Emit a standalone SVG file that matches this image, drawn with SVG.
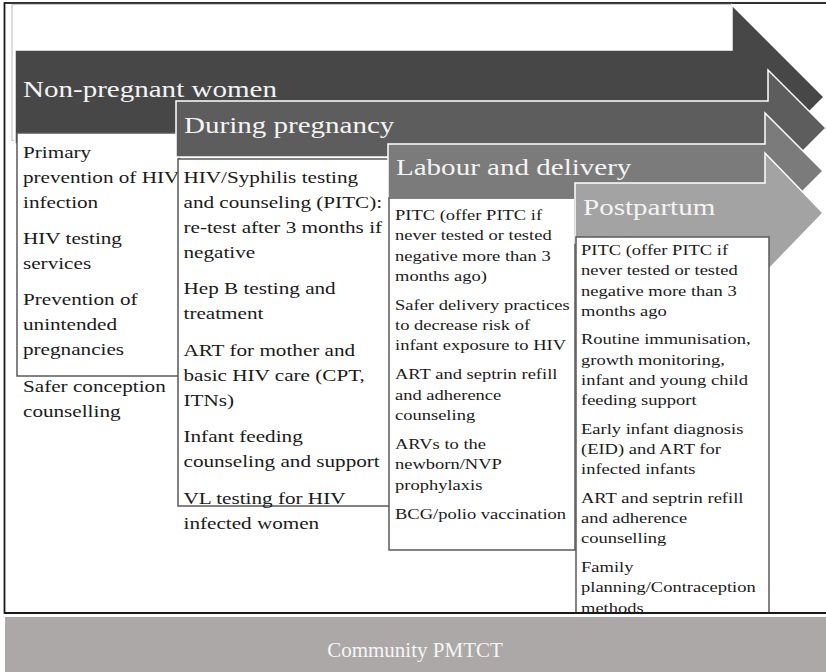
<svg xmlns="http://www.w3.org/2000/svg" width="826" height="672" viewBox="0 0 826 672">
<defs>
<style>
text{font-family:"Liberation Serif","Times New Roman",serif}
.h{font-size:24px;fill:#f4f4f4}
.b{font-size:17.5px;fill:#1a1a1a}
.s{font-size:15.3px;fill:#1a1a1a}
.arr{stroke:#ffffff;stroke-width:1.5;stroke-linejoin:miter}
.box{fill:#ffffff;stroke:#5a5a5a;stroke-width:1.5}
</style>
<clipPath id="frameClip"><rect x="0" y="0" width="826" height="612"/></clipPath>
</defs>
<rect x="0" y="0" width="826" height="672" fill="#ffffff"/>
<rect x="4.5" y="3" width="830" height="610" fill="#ffffff" stroke="#1a1a1a" stroke-width="1.8"/>
<rect x="12" y="4.5" width="720" height="136" fill="#ffffff" stroke="#c8c8c8" stroke-width="1.2"/>

<g id="stage1">
<polygon class="arr" fill="#474747" points="15,50 732,50 732,5 824,97 732,189 732,144 15,144"/>
<text class="h" transform="translate(23 0) scale(1.21 1)" x="0" y="97">Non-pregnant women</text>
<rect class="box" x="17" y="133" width="162" height="243"/>
<text class="b" transform="translate(23 0) scale(1.21 1)">
<tspan x="0" y="157.7">Primary</tspan>
<tspan x="0" y="182.7">prevention of HIV</tspan>
<tspan x="0" y="207.7">infection</tspan>
<tspan x="0" y="244">HIV testing</tspan>
<tspan x="0" y="269">services</tspan>
<tspan x="0" y="305">Prevention of</tspan>
<tspan x="0" y="330">unintended</tspan>
<tspan x="0" y="355">pregnancies</tspan>
<tspan x="0" y="391.7">Safer conception</tspan>
<tspan x="0" y="416.7">counselling</tspan>
</text>
</g>

<g id="stage2">
<polygon class="arr" fill="#5d5d5d" points="176,101 768,101 768,70 826,128 768,186 768,157 176,157"/>
<text class="h" transform="translate(184 0) scale(1.21 1)" x="0" y="133">During pregnancy</text>
<rect class="box" x="178" y="159" width="212" height="347"/>
<text class="b" transform="translate(183.5 0) scale(1.21 1)">
<tspan x="0" y="182.7">HIV/Syphilis testing</tspan>
<tspan x="0" y="207.7">and counseling (PITC):</tspan>
<tspan x="0" y="232.7">re-test after 3 months if</tspan>
<tspan x="0" y="257.7">negative</tspan>
<tspan x="0" y="294.5">Hep B testing and</tspan>
<tspan x="0" y="319.5">treatment</tspan>
<tspan x="0" y="356">ART for mother and</tspan>
<tspan x="0" y="381">basic HIV care (CPT,</tspan>
<tspan x="0" y="406">ITNs)</tspan>
<tspan x="0" y="442.5">Infant feeding</tspan>
<tspan x="0" y="467.5">counseling and support</tspan>
<tspan x="0" y="504">VL testing for HIV</tspan>
<tspan x="0" y="529">infected women</tspan>
</text>
</g>

<g id="stage3">
<polygon class="arr" fill="#7b7b7b" points="388,144 765,144 765,113 823,171 765,229 765,198 388,198"/>
<text class="h" transform="translate(396 0) scale(1.21 1)" x="0" y="175">Labour and delivery</text>
<rect class="box" x="389" y="198" width="186" height="352"/>
<text class="s" transform="translate(395 0) scale(1.21 1)">
<tspan x="0" y="220">PITC (offer PITC if</tspan>
<tspan x="0" y="240.3">never tested or tested</tspan>
<tspan x="0" y="260.6">negative more than 3</tspan>
<tspan x="0" y="280.9">months ago)</tspan>
<tspan x="0" y="309.9">Safer delivery practices</tspan>
<tspan x="0" y="330.2">to decrease risk of</tspan>
<tspan x="0" y="350.5">infant exposure to HIV</tspan>
<tspan x="0" y="379.5">ART and septrin refill</tspan>
<tspan x="0" y="399.8">and adherence</tspan>
<tspan x="0" y="420.1">counseling</tspan>
<tspan x="0" y="449.1">ARVs to the</tspan>
<tspan x="0" y="469.4">newborn/NVP</tspan>
<tspan x="0" y="489.7">prophylaxis</tspan>
<tspan x="0" y="518.7">BCG/polio vaccination</tspan>
</text>
</g>

<g id="stage4">
<polygon class="arr" fill="#a3a3a3" points="575,183 765,183 765,153 823,213 765,273 765,243 575,243"/>
<text class="h" transform="translate(583 0) scale(1.21 1)" x="0" y="215">Postpartum</text>
<g clip-path="url(#frameClip)">
<rect class="box" x="576" y="237" width="193" height="390"/>
<text class="s" transform="translate(581 0) scale(1.21 1)">
<tspan x="0" y="255">PITC (offer PITC if</tspan>
<tspan x="0" y="275.3">never tested or tested</tspan>
<tspan x="0" y="295.6">negative more than 3</tspan>
<tspan x="0" y="315.9">months ago</tspan>
<tspan x="0" y="344.4">Routine immunisation,</tspan>
<tspan x="0" y="364.7">growth monitoring,</tspan>
<tspan x="0" y="385">infant and young child</tspan>
<tspan x="0" y="405.3">feeding support</tspan>
<tspan x="0" y="433.8">Early infant diagnosis</tspan>
<tspan x="0" y="454.1">(EID) and ART for</tspan>
<tspan x="0" y="474.4">infected infants</tspan>
<tspan x="0" y="502.9">ART and septrin refill</tspan>
<tspan x="0" y="523.2">and adherence</tspan>
<tspan x="0" y="543.5">counselling</tspan>
<tspan x="0" y="572">Family</tspan>
<tspan x="0" y="592.3">planning/Contraception</tspan>
<tspan x="0" y="612.6">methods</tspan>
</text>
</g>
</g>

<line x1="4.5" y1="613" x2="826" y2="613" stroke="#1a1a1a" stroke-width="2"/>

<g id="community">
<rect x="5" y="617" width="821" height="55" fill="#aba8a7"/>
<text x="415" y="657" text-anchor="middle" font-size="21" fill="#f6f6f6">Community PMTCT</text>
</g>
</svg>
